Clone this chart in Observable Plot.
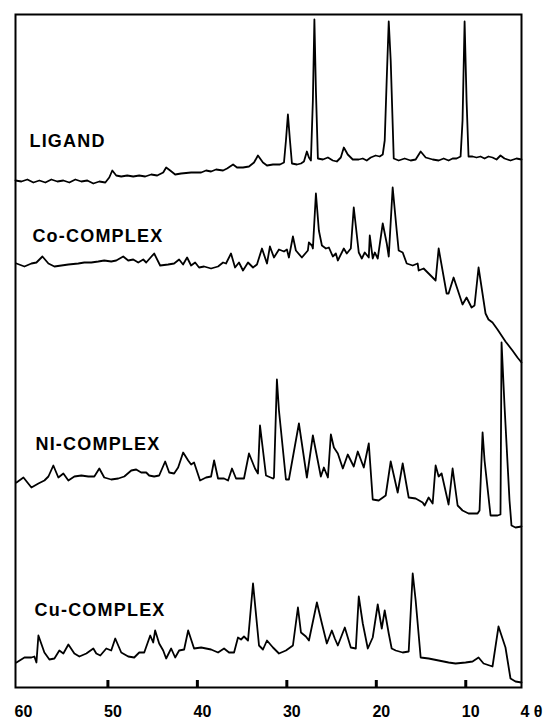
<!DOCTYPE html>
<html><head><meta charset="utf-8">
<script src="https://cdn.jsdelivr.net/npm/d3@7"></script>
<script src="https://cdn.jsdelivr.net/npm/@observablehq/plot@0.6"></script>
<style>html,body{margin:0;padding:0;background:#fff}</style>
</head><body><div id="chart"></div>
<script>
// Diffraction angle (deg) and intensity (arbitrary units, traces stacked as drawn)
const ligand = [[60.33,508],[59.67,507],[59.00,509],[58.33,506],[57.66,508],[56.99,506],[56.32,509],[55.65,507],[54.98,508],[54.31,506],[53.64,509],[52.97,507],[52.30,508],[51.63,505],[50.96,507],[50.29,506],[49.85,511],[49.51,518],[49.07,513],[48.51,512],[47.84,513],[47.17,512],[46.50,513],[45.83,512],[45.16,514],[44.49,513],[43.82,516],[43.49,521],[43.04,518],[42.48,514],[41.82,515],[40.70,516],[39.58,516],[39.03,518],[38.47,517],[37.91,519],[37.13,518],[36.68,520],[36.01,524],[35.57,521],[34.90,521],[34.23,522],[33.67,526],[33.23,533],[32.67,526],[32.22,523],[31.55,524],[30.77,524],[30.32,526],[30.10,548],[29.88,574],[29.65,548],[29.43,525],[28.87,524],[28.42,525],[28.09,527],[27.76,537],[27.53,531],[27.31,528],[27.09,588],[26.92,669],[26.75,598],[26.53,530],[25.97,529],[25.41,531],[24.86,528],[24.41,527],[23.97,531],[23.63,541],[23.19,534],[22.63,529],[21.96,529],[21.51,530],[21.07,528],[20.62,531],[20.07,533],[19.62,532],[19.28,534],[19.06,548],[18.84,608],[18.61,667],[18.39,628],[18.05,530],[17.50,528],[16.83,530],[16.16,528],[15.60,529],[15.04,537],[14.48,531],[13.70,529],[13.03,528],[12.47,530],[11.92,528],[11.47,530],[11.03,530],[10.58,532],[10.36,568],[10.13,667],[9.91,588],[9.69,532],[9.24,532],[8.80,531],[8.35,532],[7.90,530],[7.46,532],[7.01,531],[6.56,529],[6.12,533],[5.67,530],[5.00,528],[4.33,530],[3.77,529]];

const coComplex = [[60.22,425],[59.33,422],[58.55,425],[57.99,426],[57.32,432],[56.65,425],[55.98,422],[55.20,423],[54.42,424],[53.31,425],[52.64,426],[51.86,426],[51.08,427],[50.41,428],[49.63,427],[49.07,428],[48.29,432],[47.73,428],[47.17,429],[46.61,426],[46.05,429],[45.72,426],[44.83,435],[44.16,423],[43.27,424],[42.60,425],[42.04,429],[41.60,424],[41.15,431],[40.70,423],[40.25,426],[39.81,421],[39.25,422],[38.47,420],[37.69,422],[37.13,426],[36.80,425],[36.24,435],[35.79,421],[35.35,426],[34.90,418],[34.34,426],[33.78,421],[33.34,424],[32.78,440],[32.22,425],[31.89,442],[31.44,431],[30.88,439],[30.32,437],[29.99,439],[29.77,431],[29.32,452],[28.99,438],[28.32,431],[27.65,438],[27.54,446],[27.20,443],[27.09,440],[26.75,495],[26.42,458],[26.08,443],[25.63,440],[25.30,441],[24.86,432],[24.52,435],[24.30,428],[23.63,440],[23.30,435],[22.85,440],[22.52,481],[21.96,436],[21.62,430],[21.29,436],[20.84,431],[20.73,453],[20.40,430],[20.17,436],[19.84,430],[19.28,465],[18.83,445],[18.61,432],[18.17,501],[17.72,458],[17.50,438],[17.05,436],[16.60,425],[15.93,423],[15.38,425],[15.26,418],[14.71,420],[14.15,415],[13.37,408],[13.03,440],[12.14,395],[11.92,395],[11.36,411],[10.36,384],[9.91,391],[9.35,381],[9.02,383],[8.57,421],[7.79,375],[7.46,369],[7.01,366],[6.45,359],[5.56,347],[4.78,338],[4.22,331],[3.77,326]];

const niComplex = [[60.22,206],[59.44,211],[58.55,201],[57.77,205],[57.10,208],[56.65,212],[56.10,223],[55.54,211],[54.98,215],[54.42,208],[53.75,212],[52.97,213],[52.19,212],[51.52,212],[50.96,220],[50.41,211],[49.63,209],[48.84,210],[48.17,212],[47.39,218],[46.84,219],[46.28,216],[45.72,216],[45.39,213],[44.83,212],[44.27,213],[43.60,227],[43.15,216],[42.60,215],[42.15,221],[41.59,236],[41.03,228],[40.70,224],[40.37,226],[39.70,208],[39.03,211],[38.47,212],[38.13,228],[37.69,210],[37.02,210],[36.57,208],[36.13,220],[35.68,210],[34.79,210],[34.23,235],[33.56,220],[33.23,215],[33.00,263],[32.33,213],[31.55,210],[31.44,211],[31.11,309],[30.88,278],[30.10,209],[29.77,209],[28.65,265],[27.76,211],[27.09,253],[26.20,212],[25.86,221],[25.41,211],[25.08,254],[24.74,241],[24.30,235],[23.74,220],[23.19,234],[22.52,222],[22.07,237],[21.40,221],[20.84,245],[20.40,189],[19.73,188],[18.95,193],[18.39,227],[17.61,196],[17.05,225],[16.38,191],[15.60,190],[14.82,186],[14.60,183],[14.15,191],[13.70,185],[13.37,223],[13.03,212],[12.70,215],[11.92,184],[11.47,220],[10.91,183],[10.36,178],[9.69,175],[8.68,175],[8.46,178],[8.12,256],[7.90,228],[7.23,173],[6.45,173],[6.12,174],[6.00,346],[5.67,283],[5.11,188],[4.89,163],[4.44,161],[3.77,162]];

const cuComplex = [[60.22,26],[59.33,31],[58.55,31],[58.22,32],[57.99,26],[57.77,53],[57.10,36],[56.54,29],[55.98,30],[55.43,38],[54.98,35],[54.42,44],[53.75,35],[53.19,32],[52.41,35],[51.63,40],[51.30,35],[50.85,33],[50.18,40],[49.63,38],[49.18,50],[48.51,36],[47.73,32],[47.06,31],[46.50,36],[45.94,36],[45.27,53],[44.94,46],[44.72,58],[44.27,45],[43.82,38],[43.49,30],[42.93,40],[42.48,31],[42.04,38],[41.48,39],[41.03,58],[40.37,40],[39.58,41],[38.47,39],[37.69,36],[37.02,40],[36.46,36],[35.90,36],[35.46,51],[35.12,49],[34.79,52],[34.34,48],[33.78,105],[33.11,43],[32.67,39],[32.22,48],[31.55,41],[30.88,35],[30.10,38],[29.32,43],[28.76,81],[28.42,56],[27.87,52],[27.53,48],[26.64,86],[26.08,65],[25.53,45],[24.97,58],[24.64,50],[24.30,43],[23.52,61],[22.85,41],[22.29,40],[21.96,92],[21.51,65],[20.95,40],[20.40,51],[19.84,84],[19.39,60],[19.06,78],[18.61,55],[18.28,40],[17.83,38],[17.05,36],[16.38,37],[15.93,115],[15.60,88],[15.04,31],[14.15,30],[13.03,28],[11.92,26],[11.14,25],[10.02,26],[9.24,27],[8.57,31],[8.01,25],[7.01,22],[6.34,62],[5.56,41],[5.00,10],[4.44,7],[3.77,6]];

const sampleNames = ["LIGAND", "Co-COMPLEX", "NI-COMPLEX", "Cu-COMPLEX"];
const sampleSeries = [ligand, coComplex, niComplex, cuComplex];
const labelTheta = [58.77, 58.44, 58.10, 58.20];
const labelIntensity = [547, 452, 244, 78];
const tickValues = [50, 40, 30, 20, 10];
const tickLabels = [60, 50, 40, 30, 20, 10];
const lastTick = 4;

const rows = sampleSeries.flatMap((s, i) => s.map(([t, v]) => ({sample: sampleNames[i], theta: t, intensity: v})));
const labels = sampleNames.map((n, i) => ({name: n, theta: labelTheta[i], intensity: labelIntensity[i]}));

const font = "'Liberation Sans', Arial, sans-serif";

const chart = Plot.plot({
  width: 544,
  height: 719,
  marginLeft: 15,
  marginRight: 23,
  marginTop: 14,
  marginBottom: 32,
  style: {fontFamily: font, background: "#fff", color: "#000"},
  x: {domain: [60.33, 3.77], axis: null, label: null},
  y: {domain: [1, 674], axis: null},
  marks: [
    Plot.frame({stroke: "#000", strokeWidth: 2}),
    Plot.line(rows, {x: "theta", y: "intensity", z: "sample", stroke: "#000", strokeWidth: 1.8, strokeLinejoin: "round"}),
    Plot.text(labels, {x: "theta", y: "intensity", text: "name", textAnchor: "start", fontSize: 18, fontWeight: "bold", fill: "#000"}),
    Plot.ruleX(tickValues, {x: d => d, y1: 1, y2: 8, stroke: "#000", strokeWidth: 3}),
    Plot.axisX(tickLabels, {anchor: "bottom", tickSize: 0, tickPadding: 18, fontSize: 16, fontWeight: "bold", dx: 5, label: null}),
    Plot.axisX([lastTick], {anchor: "bottom", tickSize: 0, tickPadding: 18, fontSize: 16, fontWeight: "bold", textAnchor: "start", dx: 1, tickFormat: d => d + " θ", label: null})
  ]
});
d3.select(chart).selectAll('g[aria-label="text"] text').style("letter-spacing", "1.2px");
document.getElementById("chart").appendChild(chart);
</script>
</body></html>
